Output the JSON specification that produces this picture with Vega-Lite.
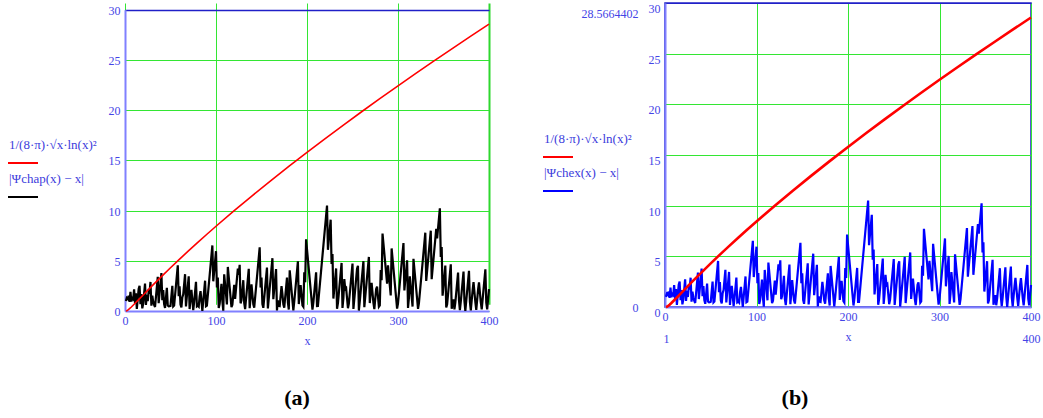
{
  "$schema": "https://vega.github.io/schema/vega-lite/v6.json",
  "padding": {"left": 12, "top": 1, "right": 0, "bottom": 0},
  "background": "white",
  "datasets": {
    "psi": [
      {"x":1,"y":1},{"x":2,"y":1.307},{"x":3,"y":1.208},{"x":4,"y":1.515},{"x":5,"y":0.906},{"x":6,"y":1.906},{"x":7,"y":0.96},{"x":8,"y":1.267},{"x":9,"y":1.168},{"x":10,"y":2.168},
      {"x":11,"y":0.77},{"x":12,"y":1.77},{"x":13,"y":0.205},{"x":15,"y":2.205},{"x":16,"y":2.512},{"x":17,"y":0.679},{"x":18,"y":1.679},{"x":19,"y":0.266},{"x":20,"y":0.734},{"x":22,"y":2.734},
      {"x":23,"y":0.599},{"x":24,"y":1.599},{"x":25,"y":0.989},{"x":26,"y":1.989},{"x":27,"y":1.891},{"x":28,"y":2.891},{"x":29,"y":0.524},{"x":30,"y":1.524},{"x":31,"y":0.91},{"x":32,"y":0.604},
      {"x":33,"y":0.396},{"x":36,"y":3.396},{"x":37,"y":0.785},{"x":40,"y":3.785},{"x":41,"y":1.072},{"x":42,"y":2.072},{"x":43,"y":0.689},{"x":44,"y":0.311},{"x":46,"y":2.311},{"x":47,"y":0.539},
      {"x":48,"y":0.461},{"x":49,"y":0.485},{"x":50,"y":0.515},{"x":52,"y":2.515},{"x":53,"y":0.456},{"x":54,"y":0.544},{"x":58,"y":4.544},{"x":59,"y":1.467},{"x":60,"y":2.467},{"x":61,"y":0.644},
      {"x":62,"y":0.356},{"x":63,"y":1.356},{"x":64,"y":1.663},{"x":66,"y":3.663},{"x":67,"y":0.458},{"x":70,"y":3.458},{"x":71,"y":0.195},{"x":72,"y":1.195},{"x":73,"y":2.095},{"x":75,"y":0.095},
      {"x":76,"y":0.905},{"x":78,"y":2.905},{"x":79,"y":0.465},{"x":80,"y":0.535},{"x":81,"y":0.437},{"x":82,"y":1.437},{"x":83,"y":1.982},{"x":85,"y":0.018},{"x":86,"y":1.018},{"x":88,"y":3.018},
      {"x":89,"y":0.471},{"x":90,"y":0.529},{"x":96,"y":6.529},{"x":97,"y":2.955},{"x":100,"y":5.955},{"x":101,"y":2.34},{"x":102,"y":3.34},{"x":103,"y":0.295},{"x":104,"y":0.705},{"x":106,"y":2.705},
      {"x":107,"y":0.968},{"x":108,"y":0.032},{"x":109,"y":3.659},{"x":112,"y":0.659},{"x":113,"y":4.387},{"x":117,"y":0.387},{"x":118,"y":0.613},{"x":120,"y":2.613},{"x":121,"y":1.215},{"x":124,"y":4.215},
      {"x":125,"y":3.606},{"x":126,"y":4.606},{"x":127,"y":0.762},{"x":128,"y":1.069},{"x":130,"y":3.069},{"x":131,"y":0.807},{"x":132,"y":0.193},{"x":136,"y":4.193},{"x":137,"y":0.273},{"x":138,"y":1.273},
      {"x":139,"y":2.661},{"x":141,"y":0.661},{"x":142,"y":0.339},{"x":148,"y":6.339},{"x":149,"y":2.335},{"x":150,"y":3.335},{"x":151,"y":0.682},{"x":152,"y":0.318},{"x":156,"y":4.318},{"x":157,"y":0.261},
      {"x":162,"y":5.261},{"x":163,"y":1.168},{"x":166,"y":4.168},{"x":167,"y":0.05},{"x":168,"y":1.05},{"x":169,"y":0.515},{"x":170,"y":0.485},{"x":172,"y":2.485},{"x":173,"y":1.669},{"x":174,"y":0.669},
      {"x":175,"y":0.331},{"x":178,"y":3.331},{"x":179,"y":0.856},{"x":180,"y":0.144},{"x":181,"y":4.054},{"x":185,"y":0.054},{"x":186,"y":0.946},{"x":190,"y":4.946},{"x":191,"y":0.693},{"x":192,"y":1.693},
      {"x":193,"y":2.569},{"x":195,"y":0.569},{"x":196,"y":0.431},{"x":197,"y":3.853},{"x":198,"y":2.853},{"x":199,"y":7.146},{"x":206,"y":0.146},{"x":207,"y":0.854},{"x":210,"y":3.854},{"x":211,"y":0.498},
      {"x":212,"y":0.502},{"x":222,"y":10.502},{"x":223,"y":6.095},{"x":226,"y":9.095},{"x":227,"y":4.67},{"x":228,"y":5.67},{"x":229,"y":1.236},{"x":232,"y":4.236},{"x":233,"y":0.215},{"x":234,"y":0.785},
      {"x":238,"y":4.785},{"x":239,"y":0.309},{"x":240,"y":1.309},{"x":241,"y":3.176},{"x":242,"y":2.176},{"x":243,"y":2.274},{"x":245,"y":0.274},{"x":246,"y":0.726},{"x":250,"y":4.726},{"x":251,"y":0.2},
      {"x":255,"y":4.2},{"x":256,"y":4.507},{"x":257,"y":0.042},{"x":258,"y":0.958},{"x":262,"y":4.958},{"x":263,"y":0.386},{"x":268,"y":5.386},{"x":269,"y":0.791},{"x":270,"y":1.791},{"x":271,"y":2.811},
      {"x":273,"y":0.811},{"x":274,"y":0.189},{"x":276,"y":2.189},{"x":277,"y":2.435},{"x":279,"y":0.435},{"x":280,"y":0.565},{"x":281,"y":4.074},{"x":282,"y":3.074},{"x":283,"y":7.719},{"x":288,"y":2.719},
      {"x":289,"y":4.552},{"x":292,"y":1.552},{"x":293,"y":6.232},{"x":299,"y":0.232},{"x":300,"y":0.768},{"x":306,"y":6.768},{"x":307,"y":2.041},{"x":310,"y":5.041},{"x":311,"y":0.301},{"x":312,"y":1.301},
      {"x":313,"y":3.445},{"x":316,"y":0.445},{"x":317,"y":5.204},{"x":322,"y":0.204},{"x":323,"y":0.796},{"x":330,"y":7.796},{"x":331,"y":2.994},{"x":336,"y":7.994},{"x":337,"y":3.174},{"x":342,"y":8.174},
      {"x":343,"y":7.228},{"x":346,"y":10.228},{"x":347,"y":5.378},{"x":348,"y":6.378},{"x":349,"y":1.523},{"x":352,"y":4.523},{"x":353,"y":0.343},{"x":354,"y":0.657},{"x":358,"y":4.657},{"x":359,"y":0.226},
      {"x":360,"y":0.774},{"x":361,"y":1.171},{"x":362,"y":0.171},{"x":363,"y":0.829},{"x":366,"y":3.829},{"x":367,"y":1.076},{"x":368,"y":0.076},{"x":369,"y":0.924},{"x":372,"y":3.924},{"x":373,"y":0.998},
      {"x":374,"y":0.002},{"x":375,"y":0.998},{"x":378,"y":3.998},{"x":379,"y":0.935},{"x":380,"y":0.065},{"x":381,"y":1.065},{"x":382,"y":2.065},{"x":383,"y":2.883},{"x":385,"y":0.883},{"x":386,"y":0.117},
      {"x":388,"y":2.117},{"x":389,"y":2.847},{"x":391,"y":0.847},{"x":392,"y":0.153},{"x":396,"y":4.153},{"x":397,"y":0.831},{"x":398,"y":0.169},{"x":400,"y":2.169}
    ],
    "g": [
      {"x":1,"y":0},{"x":2,"y":0.027},{"x":3,"y":0.083},{"x":5,"y":0.23},{"x":7,"y":0.399},{"x":10,"y":0.667},{"x":15,"y":1.13},{"x":20,"y":1.597},{"x":30,"y":2.521},{"x":40,"y":3.424},
      {"x":50,"y":4.306},{"x":60,"y":5.167},{"x":70,"y":6.009},{"x":80,"y":6.834},{"x":90,"y":7.643},{"x":100,"y":8.438},{"x":120,"y":9.99},{"x":140,"y":11.497},{"x":160,"y":12.964},{"x":180,"y":14.396},
      {"x":200,"y":15.796},{"x":220,"y":17.169},{"x":240,"y":18.515},{"x":260,"y":19.838},{"x":280,"y":21.14},{"x":300,"y":22.421},{"x":320,"y":23.683},{"x":340,"y":24.928},{"x":360,"y":26.156},{"x":380,"y":27.368},{"x":400,"y":28.566}
    ]
  },
  "config": {
    "view": {"stroke": "#2020c8", "strokeWidth": 1.5},
    "font": "Liberation Serif",
    "axis": {
      "labelFont": "Liberation Serif", "labelFontSize": 12, "labelColor": "#4444e6",
      "titleFont": "Liberation Serif", "titleFontSize": 12, "titleFontWeight": "normal", "titleColor": "#4444e6",
      "gridColor": "#33e633", "gridWidth": 1, "gridOpacity": 1,
      "domainColor": "#8080ff", "domainWidth": 2, "ticks": false, "tickSize": 0, "labelFlush": false
    },
    "legend": {
      "symbolType": "M-1.5,1.8H1.5", "symbolSize": 400, "symbolStrokeWidth": 2,
      "labelFont": "Liberation Serif", "labelFontSize": 13, "labelColor": "#3c3cdc",
      "labelOffset": -25, "labelLimit": 200,
      "rowPadding": 1, "padding": 0, "title": null
    }
  },
  "resolve": {"scale": {"color": "independent"}},
  "columns": 2,
  "align": "none",
  "spacing": 48,
  "concat": [
    {
      "width": 364, "height": 308,
      "view": {"stroke": null},
      "title": {"text": "(a)", "orient": "bottom", "anchor": "middle", "frame": "group", "offset": 42, "dx": -10, "fontSize": 22, "font": "Liberation Serif", "fontWeight": "bold", "color": "#000000"},
      "layer": [
        {
          "data": {"name": "psi"},
          "mark": {"type": "line", "strokeWidth": 2.2},
          "encoding": {
            "x": {"field": "x", "type": "quantitative", "scale": {"domain": [0, 400], "nice": false},
                  "axis": {"values": [0, 100, 200, 300, 400], "labelPadding": 4, "title": "x", "titlePadding": 9, "grid": true,
                           "gridColor": {"condition": {"test": "datum.value == 400", "value": "#2ed82e"}, "value": "#33e633"},
                           "gridWidth": {"condition": {"test": "datum.value == 400", "value": 2}, "value": 1}}},
            "y": {"field": "y", "type": "quantitative", "scale": {"domain": [0, 30], "nice": false, "range": [308, 6.7]},
                  "axis": {"values": [0, 5, 10, 15, 20, 25, 30], "labelPadding": 5, "labelBaseline": "top", "labelOffset": -4.5, "title": null, "grid": true,
                           "gridColor": {"condition": {"test": "datum.value == 30", "value": "#2020c8"}, "value": "#33e633"},
                           "gridWidth": {"condition": {"test": "datum.value == 30", "value": 1.5}, "value": 1}}},
            "color": {"datum": "|Ψchap(x) − x|",
                      "scale": {"domain": ["1/(8·π)·√x·ln(x)²", "|Ψchap(x) − x|"], "range": ["#ff0000", "#000000"]},
                      "legend": {"orient": "none", "legendX": -113, "legendY": 131}}
          }
        },
        {
          "data": {"name": "g"},
          "mark": {"type": "line", "strokeWidth": 1.6},
          "encoding": {
            "x": {"field": "x", "type": "quantitative"},
            "y": {"field": "y", "type": "quantitative"},
            "color": {"datum": "1/(8·π)·√x·ln(x)²"}
          }
        }
      ]
    },
    {
      "width": 366, "height": 304,
      "title": {"text": "(b)", "orient": "bottom", "anchor": "middle", "frame": "group", "offset": 44, "dx": -53, "fontSize": 22, "font": "Liberation Serif", "fontWeight": "bold", "color": "#000000"},
      "resolve": {"axis": {"x": "independent", "y": "independent"}},
      "layer": [
        {
          "data": {"name": "psi"},
          "mark": {"type": "line", "strokeWidth": 2.2},
          "encoding": {
            "x": {"field": "x", "type": "quantitative", "scale": {"domain": [0, 400], "nice": false},
                  "axis": {"values": [0, 100, 200, 300, 400], "labelPadding": 4, "title": "x", "titlePadding": 9, "grid": true}},
            "y": {"field": "y", "type": "quantitative", "scale": {"domain": [0, 30], "nice": false},
                  "axis": {"orient": "left", "values": [0, 5, 10, 15, 20, 25, 30], "labelPadding": 5, "labelBaseline": "top", "labelOffset": 0.4, "title": null, "grid": true,
                           "gridColor": {"condition": {"test": "datum.value == 30", "value": "#2020c8"}, "value": "#33e633"}}},
            "color": {"datum": "|Ψchex(x) − x|",
                      "scale": {"domain": ["1/(8·π)·√x·ln(x)²", "|Ψchex(x) − x|"], "range": ["#ff0000", "#0000ff"]},
                      "legend": {"orient": "none", "legendX": -118, "legendY": 125}}
          }
        },
        {
          "data": {"name": "g"},
          "mark": {"type": "line", "strokeWidth": 2.6},
          "encoding": {
            "x": {"field": "x", "type": "quantitative",
                  "axis": {"orient": "bottom", "values": [1, 400], "offset": 22, "labelPadding": 4, "grid": false, "domain": false, "title": null}},
            "y": {"field": "y", "type": "quantitative",
                  "axis": {"orient": "left", "values": [0, 28.5664402], "offset": 22, "labelPadding": 5, "grid": false, "domain": false, "title": null,
                           "labelExpr": "datum.value > 1 ? '28.5664402' : '0'",
                           "labelOffset": {"condition": {"test": "datum.value > 1", "value": -4}, "value": 0}}},
            "color": {"datum": "1/(8·π)·√x·ln(x)²"}
          }
        }
      ]
    }
  ]
}
